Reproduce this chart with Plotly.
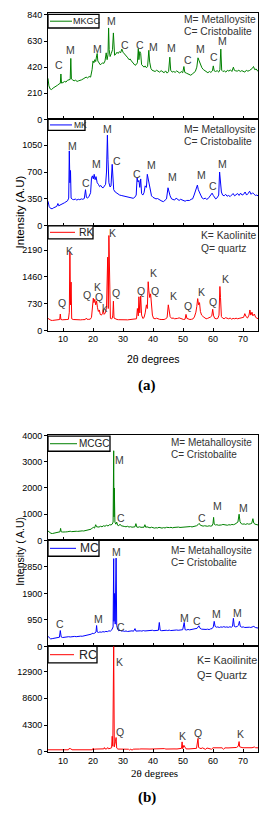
import plotly.graph_objects as go

# ---------------- DATA ----------------
x_ticks = [10, 20, 30, 40, 50, 60, 70]

mkgc_x = [5.0,5.3,5.7,6.2,6.7,7.2,7.7,8.2,8.7,9.1,9.3,9.5,10.0,10.5,11.0,11.5,12.0,12.4,12.6,12.8,13.2,13.7,14.2,14.7,15.2,15.7,16.2,16.7,17.2,17.7,18.2,18.7,19.2,19.7,20.0,20.3,20.6,20.9,21.2,21.4,21.6,22.0,22.4,22.8,23.2,23.6,24.0,24.4,24.7,25.0,25.2,25.4,25.7,26.1,26.5,26.8,27.0,27.2,27.6,28.0,28.4,28.8,29.2,29.6,30.0,30.4,30.8,31.2,31.6,32.0,32.4,32.8,33.2,33.6,34.0,34.4,34.8,35.1,35.3,35.6,35.9,36.2,36.6,37.0,37.4,37.8,38.2,38.6,38.9,39.3,39.7,40.2,40.7,41.2,41.7,42.2,42.7,43.2,43.7,44.2,44.7,45.2,45.6,45.9,46.4,46.9,47.4,47.9,48.4,48.9,49.4,49.9,50.3,50.6,51.1,51.6,52.1,52.6,53.1,53.6,54.1,54.6,55.0,55.4,55.8,56.3,56.8,57.3,57.8,58.3,58.8,59.3,59.8,60.1,60.4,60.9,61.4,61.9,62.3,62.6,62.9,63.3,63.8,64.3,64.8,65.3,65.8,66.3,66.8,67.1,67.6,68.1,68.6,69.1,69.6,70.1,70.6,71.1,71.6,72.1,72.6,73.1,73.5,73.9,74.4,75.0]
mkgc_y = [330,270,245,240,252,258,270,275,285,290,365,292,296,305,300,315,318,322,490,325,318,310,315,305,310,312,318,325,330,340,333,345,340,400,470,455,480,465,510,530,470,455,440,445,455,450,470,535,480,520,735,560,505,530,560,695,560,515,525,540,530,545,535,565,540,530,515,505,495,480,485,470,460,445,435,440,455,570,480,545,530,440,425,420,430,415,425,555,460,410,395,390,385,395,388,380,392,385,375,390,372,385,500,395,380,385,378,390,380,372,385,375,425,378,372,368,362,355,365,372,385,420,495,470,440,415,400,390,380,375,385,378,390,430,390,385,392,380,400,565,395,385,390,380,395,388,398,385,420,395,390,388,395,385,392,388,380,395,388,392,400,410,425,400,405,385]

mk_x = [5.0,5.4,5.9,6.4,6.9,7.4,7.9,8.3,8.6,9.0,9.5,10.0,10.5,11.0,11.5,11.9,12.1,12.3,12.5,12.7,13.1,13.6,14.1,14.6,15.1,15.6,16.1,16.6,17.1,17.5,17.8,18.2,18.7,19.2,19.5,19.8,20.1,20.4,20.7,21.0,21.4,21.8,22.2,22.6,23.0,23.4,23.8,24.2,24.5,24.8,25.0,25.3,25.7,26.0,26.4,26.6,26.9,27.4,27.9,28.4,28.9,29.4,29.9,30.4,30.9,31.4,31.9,32.4,32.9,33.4,33.9,34.4,34.7,35.0,35.3,35.6,35.9,36.2,36.6,37.0,37.4,37.8,38.1,38.4,38.7,39.1,39.5,40.0,40.5,41.0,41.5,42.0,42.5,43.0,43.5,44.0,44.5,45.0,45.3,45.7,46.2,46.7,47.2,47.7,48.2,48.7,49.2,49.7,50.2,50.7,51.2,51.7,52.2,52.7,53.2,53.7,54.1,54.5,54.8,55.1,55.5,55.9,56.4,56.9,57.4,57.9,58.4,58.9,59.3,59.7,60.1,60.5,60.9,61.4,61.9,62.2,62.5,62.8,63.2,63.7,64.2,64.7,65.2,65.7,66.2,66.7,67.2,67.7,68.2,68.7,69.2,69.7,70.2,70.7,71.2,71.7,72.2,72.7,73.2,73.7,74.2,74.6,75.0]
mk_y = [320,250,225,222,235,245,252,290,260,270,285,290,300,310,325,360,975,560,720,360,345,340,348,335,345,340,350,345,355,470,370,360,385,430,620,650,610,670,600,640,560,540,510,525,500,495,520,540,700,1180,860,560,505,520,800,560,470,440,425,410,400,395,390,382,378,372,370,368,362,358,370,400,625,570,590,500,610,420,400,430,520,500,670,610,540,480,390,370,365,350,355,340,330,320,315,330,350,495,440,390,350,345,335,360,345,330,345,335,325,320,330,325,330,345,350,400,450,480,530,470,420,400,360,350,360,345,355,380,395,425,395,370,350,365,400,700,520,440,400,390,410,385,395,380,400,420,390,405,420,395,425,400,410,440,400,420,450,410,430,410,395,400,390]

rk_x = [5.0,5.5,6.0,6.5,7.0,7.5,8.0,8.5,8.9,9.1,9.3,9.8,10.3,10.8,11.3,11.8,12.1,12.3,12.5,12.7,12.9,13.4,13.9,14.4,14.9,15.4,15.9,16.4,16.9,17.4,17.8,18.1,18.6,19.1,19.5,19.8,20.1,20.3,20.6,20.9,21.2,21.5,21.8,22.1,22.4,22.8,23.2,23.4,23.7,24.1,24.5,24.9,25.1,25.3,25.5,25.8,26.1,26.4,26.6,26.8,27.0,27.5,28.0,28.5,29.0,29.5,30.0,30.5,31.0,31.5,32.0,32.5,33.0,33.5,34.0,34.5,34.8,35.1,35.3,35.6,35.9,36.2,36.6,37.0,37.4,37.8,38.1,38.4,38.6,38.9,39.2,39.5,39.8,40.2,40.7,41.2,41.7,42.2,42.7,43.2,43.7,44.2,44.7,45.1,45.4,45.7,46.2,46.7,47.2,47.7,48.2,48.7,49.2,49.7,50.2,50.7,51.0,51.3,51.8,52.3,52.8,53.3,53.8,54.3,54.6,54.9,55.2,55.5,55.8,56.2,56.7,57.2,57.7,58.2,58.7,59.2,59.6,59.9,60.2,60.6,61.1,61.6,62.0,62.3,62.5,62.8,63.2,63.7,64.2,64.7,65.2,65.7,66.2,66.7,67.2,67.7,68.2,68.7,69.2,69.7,70.2,70.6,71.0,71.5,72.0,72.3,72.6,73.0,73.3,73.8,74.2,74.6,75.0]
rk_y = [330,290,278,275,280,276,282,290,300,450,300,292,290,296,300,305,500,2150,700,1320,320,300,295,290,296,292,290,295,292,298,340,300,305,310,360,620,880,760,850,700,800,620,520,560,440,420,470,570,440,480,620,2000,600,2590,900,330,320,330,420,800,340,310,300,295,298,292,296,288,292,290,295,290,292,296,300,320,600,400,920,480,940,420,330,350,480,700,600,1330,1100,900,1000,600,420,330,320,335,310,305,300,295,300,320,350,700,560,380,330,340,320,315,330,345,325,310,300,310,440,330,310,300,305,315,370,500,660,870,700,760,520,420,380,340,320,330,340,370,400,580,400,330,320,330,420,1200,900,380,340,320,350,330,320,340,310,330,320,335,320,330,340,330,360,460,380,340,420,560,420,500,400,450,360,340,320]

mcgc_x = [5.0,5.5,6.0,6.5,7.0,7.5,8.0,8.5,9.0,9.2,9.4,9.9,10.4,10.9,11.4,11.9,12.4,12.9,13.4,13.9,14.4,14.9,15.4,15.9,16.4,16.9,17.4,17.9,18.4,18.9,19.4,19.8,20.1,20.5,20.9,21.2,21.6,22.0,22.5,23.0,23.5,24.0,24.5,25.0,25.5,26.0,26.4,26.7,26.9,27.0,27.1,27.3,27.6,27.9,28.2,28.6,29.0,29.4,29.8,30.2,30.6,31.0,31.5,32.0,32.5,33.0,33.5,34.0,34.3,34.6,35.0,35.5,36.0,36.5,37.0,37.3,37.6,38.0,38.5,39.0,39.5,40.0,40.5,41.0,41.5,42.0,42.5,43.0,43.5,44.0,44.5,45.0,45.5,46.0,46.5,47.0,47.5,48.0,48.5,49.0,49.5,50.0,50.5,51.0,51.5,52.0,52.5,53.0,53.5,54.0,54.5,55.0,55.4,55.8,56.2,56.7,57.2,57.7,58.2,58.7,59.2,59.7,60.0,60.2,60.4,60.8,61.3,61.8,62.3,62.8,63.3,63.8,64.3,64.8,65.3,65.8,66.3,66.8,67.3,67.8,68.3,68.7,69.0,69.4,69.9,70.4,70.9,71.4,71.9,72.4,72.9,73.3,73.6,74.0,74.5,75.0]
mcgc_y = [360,300,270,265,280,290,295,310,330,460,330,320,335,325,330,345,350,335,345,340,350,345,360,350,365,360,370,380,390,420,430,480,500,470,600,520,500,510,540,520,560,540,580,550,600,590,620,700,3420,900,2000,700,620,700,580,560,620,560,540,545,530,520,540,510,525,505,500,520,640,510,500,520,500,490,505,600,500,520,490,480,505,490,470,485,475,500,480,470,490,475,500,485,490,500,480,495,505,490,510,495,500,515,500,505,520,510,530,515,525,540,560,600,650,580,560,545,560,550,540,560,545,560,650,880,620,590,600,580,600,590,610,590,600,580,600,590,610,600,620,650,700,1000,720,640,620,630,610,640,620,630,650,830,660,620,600,590]

mc_x = [5.0,5.4,5.9,6.4,6.9,7.4,7.9,8.4,8.8,9.1,9.4,9.9,10.4,10.9,11.4,11.9,12.4,12.9,13.4,13.9,14.4,14.9,15.4,15.9,16.4,16.9,17.4,17.9,18.4,18.9,19.4,19.7,20.1,20.6,21.0,21.2,21.4,21.8,22.3,22.8,23.3,23.8,24.3,24.8,25.3,25.8,26.3,26.7,26.9,27.0,27.2,27.4,27.7,27.9,28.2,28.6,29.0,29.5,30.0,30.5,31.0,31.5,32.0,32.5,33.0,33.5,34.0,34.3,34.8,35.3,35.8,36.3,36.8,37.3,37.8,38.3,38.8,39.3,39.8,40.3,40.8,41.3,41.8,42.1,42.4,42.9,43.4,43.9,44.4,44.9,45.4,45.9,46.4,46.9,47.4,47.9,48.4,48.9,49.4,49.9,50.4,50.7,51.2,51.7,52.2,52.7,53.2,53.7,54.2,54.7,55.3,55.7,56.2,56.7,57.2,57.7,58.2,58.7,59.2,59.7,60.1,60.4,60.7,61.1,61.6,62.1,62.6,63.1,63.6,64.1,64.6,65.1,65.6,66.1,66.5,66.8,67.1,67.6,68.1,68.5,68.8,69.1,69.6,70.1,70.6,71.1,71.6,72.1,72.6,73.1,73.6,74.1,74.6,75.0]
mc_y = [360,300,270,280,290,300,310,320,330,570,340,320,330,345,335,350,340,355,345,360,350,365,355,370,365,380,375,390,400,420,440,470,460,480,520,750,520,500,520,510,530,520,540,530,560,550,600,700,3150,900,1900,800,3170,750,620,560,580,550,560,540,555,535,550,540,560,545,640,550,560,545,560,550,570,555,560,575,560,570,580,565,575,560,580,860,580,565,575,560,580,570,585,570,580,590,575,590,580,595,585,600,860,600,590,610,595,605,600,615,620,650,740,650,620,610,625,610,620,605,630,640,700,900,720,690,700,680,700,690,710,690,700,685,705,690,720,1010,720,700,720,760,900,720,690,700,680,690,675,690,680,700,720,680,670,660]

rc_x = [5.0,6.0,7.0,8.0,9.0,10.0,11.0,11.8,12.0,12.6,13.0,14.0,15.0,16.0,17.0,18.0,19.0,19.8,20.1,20.4,21.0,22.0,23.0,23.6,23.8,24.0,24.6,24.9,25.2,25.8,26.2,26.4,26.6,26.9,27.1,27.5,27.7,27.9,28.3,29.0,30.0,31.0,31.8,32.2,32.6,33.0,33.4,34.0,35.0,35.5,36.0,37.0,37.5,38.0,39.0,40.0,40.8,41.5,42.0,43.0,43.8,44.3,45.0,45.6,46.2,47.0,48.0,49.0,49.5,49.7,49.9,50.3,50.6,51.0,52.0,53.0,53.5,54.0,54.5,55.0,55.2,55.6,56.0,56.5,57.0,57.5,58.0,58.5,59.0,59.5,60.0,61.0,62.0,63.0,63.5,64.0,65.0,66.0,67.0,67.8,68.4,68.7,68.9,69.5,70.0,71.0,72.0,73.0,73.8,74.2,75.0]
rc_y = [330,320,325,318,322,320,315,330,520,500,330,320,318,322,320,318,325,330,600,420,450,440,460,480,680,470,480,690,480,520,650,2500,900,17000,800,1700,2300,600,450,440,430,450,420,300,430,260,420,440,520,450,470,520,440,460,450,470,520,450,480,460,520,450,470,540,460,470,460,480,560,1600,500,1050,700,480,470,480,440,500,560,2150,700,600,520,640,560,400,620,560,600,420,650,640,630,650,420,640,630,650,640,700,900,1650,800,700,650,660,650,660,780,660,650]

# peak labels
mkgc_lab_x = [8.8,12.6,21.4,26.0,30.8,35.8,40.2,46.2,51.8,55.9,60.2,63.2]
mkgc_lab_y = [434,561,567,791,595,600,585,575,474,569,500,627]
mkgc_lab_t = ["C","M","M","M","C","C","M","M","C","M","C","M"]

mk_lab_x = [13.2,17.6,21.3,24.7,28.1,34.7,39.6,46.6,56.2,59.9,63.2]
mk_lab_y = [1045,558,801,1254,849,673,788,638,664,515,801]
mk_lab_t = ["M","C","M","M","C","C","M","M","M","C","M"]

rk_lab_x = [12.0,26.6,9.7,18.0,21.6,21.9,24.1,27.7,36.0,40.1,40.7,46.8,51.8,56.1,59.9,64.1]
rk_lab_y = [2160,2661,741,975,1199,902,614,1018,1064,1557,1083,929,679,1045,776,1406]
rk_lab_t = ["K","K","Q","Q","K","Q","k","Q","Q","K","Q","K","Q","K","Q","K"]

mcgc_lab_x = [28.8,29.2,56.4,61.4,70.2]
mcgc_lab_y = [3068,856,856,1332,1245]
mcgc_lab_t = ["M","C","C","M","M"]

mc_lab_x = [27.7,9.1,21.9,29.4,50.6,54.6,61.2,68.0]
mc_lab_y = [3378,801,968,709,1014,922,1180,1216]
mc_lab_t = ["M","C","M","C","M","C","M","M"]

rc_lab_x = [28.7,29.0,49.8,55.1,69.0]
rc_lab_y = [14440,3173,2539,3063,2808]
rc_lab_t = ["K","Q","K","Q","K"]

# ---------------- LAYOUT HELPERS ----------------
W, H = 263, 826
def px(x):
    return x / W
def py(y):
    return 1 - y / H

SANS = "Arial, Liberation Sans, sans-serif"
SERIF = "Liberation Serif, Times New Roman, serif"
GREEN, BLUE, RED = "#008000", "#0000ff", "#ff0000"

panels = [
    dict(name="MKGC", x=mkgc_x, y=mkgc_y, c=GREEN, dom=(8.5, 115.8), rng=852, tv=[0,210,420,630,840], xl=False,
         lab=(mkgc_lab_x, mkgc_lab_y, mkgc_lab_t), box=(48, 9.5, 99, 23.3), line=(50, 72), tx=71, lfs=9,
         key=["M= Metalloysite", "C= Cristobalite"], kx=182, ky=(15, 26.5), kfs=10.3),
    dict(name="MK", x=mk_x, y=mk_y, c=BLUE, dom=(115.8, 223.5), rng=1385, tv=[0,350,700,1050], xl=False,
         lab=(mk_lab_x, mk_lab_y, mk_lab_t), box=(48, 115.8, 85, 127), line=(50, 72), tx=71.5, lfs=8.5,
         key=["M= Metalloysite", "C= Cristobalite"], kx=182, ky=(126, 138.5), kfs=10.3),
    dict(name="RK", x=rk_x, y=rk_y, c=RED, dom=(223.5, 329.5), rng=2855, tv=[0,730,1460,2190], xl=True,
         lab=(rk_lab_x, rk_lab_y, rk_lab_t), box=(48, 223.5, 93, 236.7), line=(50, 75), tx=76.5, lfs=10.5,
         key=["K= Kaolinite", "Q= quartz"], kx=199, ky=(233.5, 246.5), kfs=10.3),
    dict(name="MCGC", x=mcgc_x, y=mcgc_y, c=GREEN, dom=(435.7, 542), rng=4005, tv=[0,1000,2000,3000,4000], xl=False,
         lab=(mcgc_lab_x, mcgc_lab_y, mcgc_lab_t), box=(48, 436.5, 110, 451.7), line=(50, 77), tx=77, lfs=10,
         key=["M= Metahalloysite", "C= Cristobalite"], kx=169, ky=(443, 455.5), kfs=10),
    dict(name="MC", x=mc_x, y=mc_y, c=BLUE, dom=(542, 649.3), rng=3803, tv=[0,950,1900,2850], xl=False,
         lab=(mc_lab_x, mc_lab_y, mc_lab_t), box=(48, 542, 99, 558), line=(50, 76), tx=78, lfs=12,
         key=["M= Metahalloysite", "C= Cristobalite"], kx=169, ky=(552, 564.5), kfs=10),
    dict(name="RC", x=rc_x, y=rc_y, c=RED, dom=(649.3, 756), rng=16930, tv=[0,4300,8600,12900], xl=True,
         lab=(rc_lab_x, rc_lab_y, rc_lab_t), box=(48, 649.3, 97, 666), line=(50, 74), tx=76.5, lfs=12.5,
         key=["K= Kaoilinite", "Q= Quartz"], kx=195, ky=(663.5, 678.5), kfs=10.8),
]

fig = go.Figure()
layout = dict(width=W, height=H, margin=dict(l=0, r=0, t=0, b=0),
              paper_bgcolor="white", plot_bgcolor="white", showlegend=False,
              font=dict(family=SANS, color="#000", size=9))
annotations = []
shapes = []

XDOM = [px(48), px(258)]

for i, p in enumerate(panels, start=1):
    xa = "xaxis" if i == 1 else f"xaxis{i}"
    ya = "yaxis" if i == 1 else f"yaxis{i}"
    xr = "x" if i == 1 else f"x{i}"
    yr = "y" if i == 1 else f"y{i}"
    fig.add_trace(go.Scatter(x=p["x"], y=p["y"], mode="lines", name=p["name"],
                             line=dict(color=p["c"], width=1), xaxis=xr, yaxis=yr,
                             hoverinfo="skip"))
    layout[xa] = dict(domain=XDOM, anchor=yr, range=[5, 75], tickvals=x_ticks,
                      ticks="inside", ticklen=3, tickcolor="#000", showline=True,
                      linecolor="#000", linewidth=1, mirror=True, showgrid=False,
                      zeroline=False, showticklabels=p["xl"], fixedrange=True,
                      tickfont=dict(family=SANS, size=9, color="#000"))
    layout[ya] = dict(domain=[py(p["dom"][1]), py(p["dom"][0])], anchor=xr,
                      range=[0, p["rng"]], tickvals=p["tv"], tickformat="d",
                      ticks="outside", ticklen=3, fixedrange=True,
                      tickcolor="#000", showline=True, linecolor="#000", linewidth=1,
                      mirror=True, showgrid=False, zeroline=False,
                      tickfont=dict(family=SANS, size=9, color="#000"))
    lx, ly, lt = p["lab"]
    for a, b, t in zip(lx, ly, lt):
        annotations.append(dict(x=a, y=b, xref=xr, yref=yr, text=t, showarrow=False,
                                font=dict(family=SANS, size=10.5, color="#404040"),
                                xanchor="center", yanchor="middle"))
    x0, y0, x1, y1 = p["box"]
    shapes.append(dict(type="rect", xref="paper", yref="paper", x0=px(x0), x1=px(x1),
                       y0=py(y1), y1=py(y0), line=dict(color="#000", width=1.3),
                       fillcolor="white", layer="above"))
    ym = (y0 + y1) / 2
    shapes.append(dict(type="line", xref="paper", yref="paper", x0=px(p["line"][0]),
                       x1=px(p["line"][1]), y0=py(ym), y1=py(ym),
                       line=dict(color=p["c"], width=1), layer="above"))
    annotations.append(dict(x=px(p["tx"]), y=py(ym), xref="paper", yref="paper",
                            text=p["name"], showarrow=False, xanchor="left", yanchor="middle",
                            font=dict(family=SANS, size=p["lfs"], color="#222")))
    for k, yy in zip(p["key"], p["ky"]):
        annotations.append(dict(x=px(p["kx"]), y=py(yy), xref="paper", yref="paper",
                                text=k, showarrow=False, xanchor="left", yanchor="middle",
                                font=dict(family=SANS, size=p["kfs"], color="#333")))

annotations += [
    dict(x=px(12), y=py(171), xref="paper", yref="paper", text="Intensity (A.U)",
         textangle=-90, showarrow=False, font=dict(family=SANS, size=11.5, color="#000")),
    dict(x=px(153), y=py(358), xref="paper", yref="paper", text="2θ degrees",
         showarrow=False, font=dict(family=SANS, size=10.5, color="#000")),
    dict(x=px(147), y=py(385), xref="paper", yref="paper", text="<b>(a)</b>",
         showarrow=False, font=dict(family=SERIF, size=15, color="#000")),
    dict(x=px(12.5), y=py(590), xref="paper", yref="paper", text="Intensity ( A.U)",
         textangle=-90, showarrow=False, font=dict(family=SANS, size=10.5, color="#000")),
    dict(x=px(154), y=py(786), xref="paper", yref="paper", text="2θ degrees",
         showarrow=False, font=dict(family=SERIF, size=11, color="#000")),
    dict(x=px(147), y=py(813), xref="paper", yref="paper", text="<b>(b)</b>",
         showarrow=False, font=dict(family=SERIF, size=15, color="#000")),
]

layout["annotations"] = annotations
layout["shapes"] = shapes
fig.update_layout(**layout)
fig.write_html("out.html", config={"displayModeBar": False, "staticPlot": True},
               post_script="document.body.style.margin='0px';")
